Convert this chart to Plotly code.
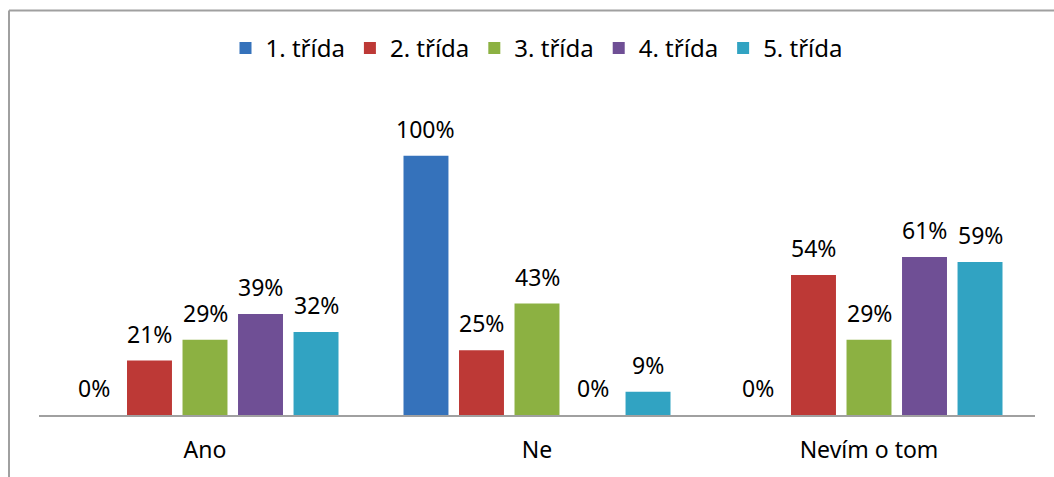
import plotly.graph_objects as go

categories = ["Ano", "Ne", "Nevím o tom"]
series_names = ["1. třída", "2. třída", "3. třída", "4. třída", "5. třída"]
values_1 = [0, 100, 0]
values_2 = [21, 25, 54]
values_3 = [29, 43, 29]
values_4 = [39, 0, 61]
values_5 = [32, 9, 59]
all_values = [values_1, values_2, values_3, values_4, values_5]
colors = ["#3572bb", "#bd3936", "#8cb142", "#6f4f95", "#31a3c2"]

W, H = 1054, 477
ML, MR, MT, MB = 39, 19, 104, 60
BARGAP = 0.164
BARGROUPGAP = 0.19
FONT = "Noto Sans"

fig = go.Figure()
for name, vals, col in zip(series_names, all_values, colors):
    fig.add_trace(go.Bar(
        x=categories, y=[v / 100 for v in vals], name=name,
        marker=dict(color=col, line=dict(width=0)),
        hoverinfo="skip",
    ))

plot_w = W - ML - MR
slot = plot_w / len(categories) * (1 - BARGAP) / len(series_names)
annotations = []
for i, vals in enumerate(all_values):
    for cat, v in zip(categories, vals):
        annotations.append(dict(
            x=cat, y=v / 100, xref="x", yref="y",
            text=f"{v}%", showarrow=False,
            xanchor="center", yanchor="bottom",
            xshift=(i - (len(series_names) - 1) / 2) * slot,
            yshift=9,
            font=dict(family=FONT, size=23, color="#000000"),
        ))

plot_h = H - MT - MB
# outer frame (left and top edges visible)
left_x = (9 - ML) / plot_w
top_y = (H - MB - 10) / plot_h
shapes = [
    dict(type="line", xref="paper", yref="paper", x0=left_x, x1=left_x, y0=-1, y1=top_y,
         line=dict(color="#a0a0a0", width=2)),
    dict(type="line", xref="paper", yref="paper", x0=left_x, x1=1.2, y0=top_y, y1=top_y,
         line=dict(color="#a0a0a0", width=2)),
]

fig.update_layout(
    width=W, height=H,
    margin=dict(l=ML, r=MR, t=MT, b=MB),
    paper_bgcolor="white", plot_bgcolor="white",
    barmode="group", bargap=BARGAP, bargroupgap=BARGROUPGAP,
    font=dict(family=FONT, size=22, color="#000000"),
    showlegend=True,
    legend=dict(orientation="h", x=0.5, xanchor="center", y=(H - MB - 48) / plot_h,
                yanchor="middle", font=dict(family=FONT, size=24), itemclick=False),
    annotations=annotations,
    shapes=shapes,
    xaxis=dict(showline=True, linecolor="#a0a0a0", linewidth=2, ticks="",
               ticklabelstandoff=13, tickfont=dict(family=FONT, size=23),
               showgrid=False, fixedrange=True),
    yaxis=dict(range=[0, 1.2], visible=False, showgrid=False, zeroline=False, fixedrange=True),
)

fig.write_html("out.html", config={"displayModeBar": False},
               post_script="document.body.style.margin='0';")
